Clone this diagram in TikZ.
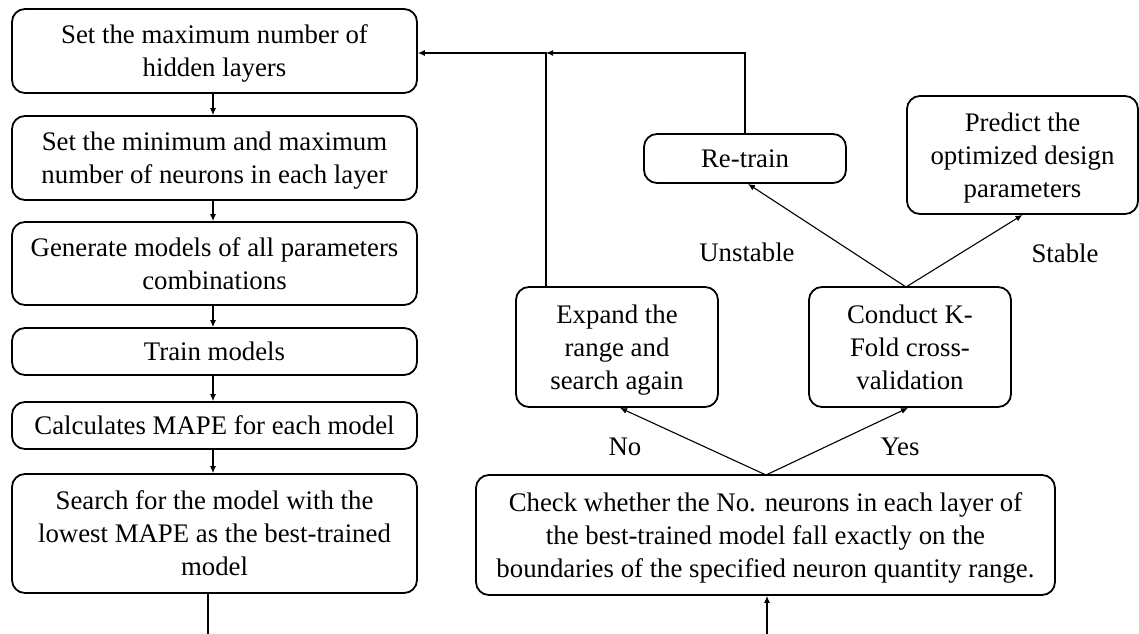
\documentclass[tikz,border=0pt]{standalone}
\usepackage{fontspec}
\setmainfont{Liberation Serif}
\usetikzlibrary{arrows.meta}
\begin{document}
\begin{tikzpicture}[x=1bp,y=-1bp,
  every node/.style={font=\fontsize{26.8bp}{33bp}\selectfont},
  box/.style={draw, line width=1.8bp, rounded corners=13bp, align=center,
    inner sep=0pt, text depth=0pt},
  link/.style={line width=1.1bp},
  arr/.style={link, -{Latex[length=7bp,width=6bp]}},
  lbl/.style={inner sep=0pt}]
\useasboundingbox (0,0) rectangle (1139,634);

% main chain on the left
\node[box, minimum width=405bp, minimum height=84bp]  (b1) at (214.5,51)
  {Set the maximum number of\\hidden layers};
\node[box, minimum width=405bp, minimum height=84bp]  (b2) at (214.5,158)
  {Set the minimum and maximum\\number of neurons in each layer};
\node[box, minimum width=405bp, minimum height=83bp]  (b3) at (214.5,263.5)
  {Generate models of all parameters\\combinations};
\node[box, minimum width=405bp, minimum height=47bp]  (b4) at (214.5,351.5)
  {Train models};
\node[box, minimum width=405bp, minimum height=47bp]  (b5) at (214.5,425.5)
  {Calculates MAPE for each model};
\node[box, minimum width=405bp, minimum height=119bp] (b6) at (214.5,533.5)
  {Search for the model with the\\lowest MAPE as the best-trained\\model};

% decision part on the right
\node[box, minimum width=579bp, minimum height=120bp] (chk) at (765.5,535)
  {Check whether the No. neurons in each layer of\\the best-trained model fall exactly on the\\boundaries of the specified neuron quantity range.};
\node[box, minimum width=202bp, minimum height=120bp] (exp) at (617,347)
  {Expand the\\range and\\search again};
\node[box, minimum width=202bp, minimum height=120bp] (kf) at (910,347)
  {Conduct K-\\Fold cross-\\validation};
\node[box, minimum width=202bp, minimum height=49bp]  (rt) at (745,158.5)
  {Re-train};
\node[box, minimum width=231bp, minimum height=118bp] (pr) at (1022.5,155)
  {Predict the\\optimized design\\parameters};

% branch labels
\node[lbl] (lno)  at (625,447) {No};
\node[lbl] (lyes) at (900,447) {Yes};
\node[lbl] (lun)  at (747,252) {Unstable};
\node[lbl] (lst)  at (1065,253) {Stable};

% helper points
\coordinate (j)    at (546,53);
\coordinate (out)  at (208,634);
\coordinate (in)   at (767,634);
\coordinate (ctop) at (766,475);
\coordinate (ktop) at (906,287);

% vertical chain
\draw[arr] (b1.south -| 213,0) -- (b2.north -| 213,0);
\draw[arr] (b2.south -| 213,0) -- (b3.north -| 213,0);
\draw[arr] (b3.south -| 213,0) -- (b4.north -| 213,0);
\draw[arr] (b4.south -| 213,0) -- (b5.north -| 213,0);
\draw[arr] (b5.south -| 213,0) -- (b6.north -| 213,0);
\draw[link] (b6.south -| out) -- (out);

% into the check
\draw[arr] (in) -- (chk.south -| in);

% decision branches
\draw[arr] (ctop) -- (exp.south -| 620,0);
\draw[arr] (ctop) -- (kf.south -| 908,0);
\draw[arr] (ktop) -- (rt.south -| 748,0);
\draw[arr] (ktop) -- (pr.south);

% feedback loops
\draw[arr] (rt.north) |- (j);
\draw[arr] (exp.north -| j) -- (j) -- (j -| b1.east);
\end{tikzpicture}
\end{document}
